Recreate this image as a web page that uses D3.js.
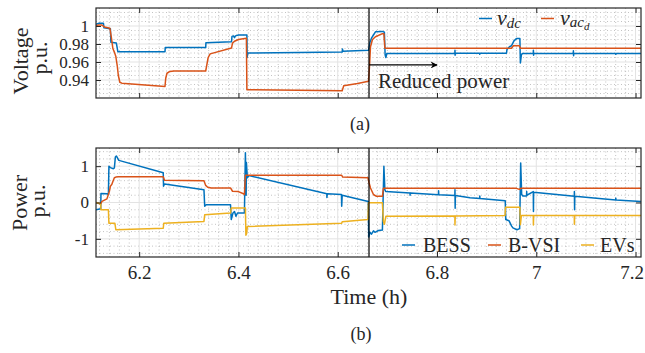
<!DOCTYPE html>
<html><head><meta charset="utf-8">
<script src="https://cdn.jsdelivr.net/npm/d3@7"></script>
<style>
body{margin:0;background:#fff}
svg{display:block}
text{font-family:"Liberation Serif","Times New Roman",serif;fill:#262626}
</style>
</head><body>
<svg id="c" width="645" height="353"></svg>
<script>
// ---------------- data ----------------
const timeDomain = [6.113, 7.211];
const timeTicks = [6.2, 6.4, 6.6, 6.8, 7, 7.2];
const voltDomain = [0.92, 1.02];
const voltTicks = [0.94, 0.96, 0.98, 1];
const powerDomain = [-1.5, 1.5];
const powerTicks = [-1, 0, 1];
const eventTime = 6.663;           // "Reduced power" instant
const arrowEnd = 6.8;
const arrowLevel = 0.9567;

// [time (h), value p.u.]
const vdc = [
 [6.113,1.002],[6.119,1.003],[6.128,1.003],[6.129,0.998],[6.142,0.997],[6.143,0.982],
 [6.154,0.981],[6.157,0.9715],[6.252,0.9715],[6.2525,0.976],[6.334,0.976],[6.3345,0.9815],
 [6.386,0.9825],[6.387,0.9885],[6.390,0.989],[6.392,0.987],[6.394,0.989],[6.400,0.990],
 [6.417,0.990],[6.4175,0.965],[6.419,0.970],[6.609,0.971],[6.6095,0.9745],[6.6105,0.972],
 [6.662,0.973],[6.665,0.982],[6.668,0.9865],[6.672,0.990],[6.676,0.9935],[6.690,0.994],
 [6.694,0.993],[6.6955,0.968],[6.697,0.965],[6.699,0.9695],[6.836,0.9697],[6.8362,0.973],
 [6.8365,0.9675],[6.837,0.9697],[6.886,0.9697],[6.8862,0.9685],[6.887,0.9697],[6.940,0.9697],
 [6.941,0.974],[6.946,0.977],[6.950,0.978],[6.955,0.9835],[6.960,0.986],[6.967,0.986],
 [6.968,0.959],[6.970,0.968],[6.972,0.9695],[6.994,0.9695],[6.9942,0.973],[6.9946,0.9675],
 [6.995,0.9695],[7.0746,0.9695],[7.0748,0.9725],[7.0752,0.967],[7.0756,0.9695],[7.16,0.9695],
 [7.1602,0.9685],[7.161,0.9695],[7.211,0.9695]
];
const vacd = [
 [6.113,1.0003],[6.117,1.001],[6.125,1.001],[6.130,0.999],[6.141,0.9975],[6.144,0.987],
 [6.147,0.975],[6.150,0.971],[6.153,0.966],[6.156,0.955],[6.158,0.945],[6.161,0.9375],
 [6.165,0.9365],[6.252,0.9328],[6.2535,0.942],[6.256,0.9475],[6.262,0.9495],[6.270,0.950],
 [6.334,0.950],[6.336,0.956],[6.339,0.965],[6.343,0.969],[6.386,0.9755],[6.388,0.981],
 [6.392,0.983],[6.400,0.985],[6.416,0.9865],[6.417,0.9292],[6.609,0.928],[6.612,0.9335],
 [6.640,0.936],[6.662,0.9385],[6.664,0.955],[6.666,0.977],[6.670,0.985],[6.676,0.988],
 [6.690,0.9915],[6.693,0.9915],[6.695,0.9752],[6.950,0.9752],[6.954,0.978],[6.966,0.978],
 [6.968,0.9752],[7.211,0.9752]
];
const bess = [
 [6.113,-0.2],[6.1225,-0.17],[6.123,0.25],[6.135,0.24],[6.138,0.22],[6.139,1.0],[6.142,0.96],
 [6.148,0.93],[6.150,0.95],[6.152,1.25],[6.154,1.28],[6.159,1.16],[6.2485,0.82],[6.249,0.45],
 [6.251,0.51],[6.3305,0.35],[6.332,-0.1],[6.335,-0.06],[6.384,-0.06],[6.3855,-0.47],
 [6.389,-0.29],[6.392,-0.25],[6.395,-0.38],[6.398,-0.29],[6.412,-0.29],[6.414,1.37],
 [6.4155,0.2],[6.416,1.1],[6.418,0.68],[6.421,0.74],[6.578,0.24],[6.5782,0.14],[6.579,0.24],
 [6.6075,0.22],[6.608,-0.1],[6.609,0.2],[6.6615,0.03],[6.6625,-0.95],[6.665,-0.82],
 [6.668,-0.87],[6.672,-0.78],[6.675,-0.82],[6.682,-0.77],[6.690,-0.76],[6.693,1.0],
 [6.695,0.35],[6.697,0.30],[6.7456,0.26],[6.7458,0.2],[6.746,0.26],[6.803,0.21],[6.8032,0.32],
 [6.8036,0.21],[6.836,0.19],[6.8362,0.35],[6.8366,-0.16],[6.837,0.19],[6.8665,0.13],
 [6.886,0.11],[6.8862,0.18],[6.8866,0.11],[6.9375,0.05],[6.9385,-0.47],[6.945,-0.5],
 [6.9504,-0.65],[6.953,-0.7],[6.961,-0.75],[6.9665,-0.72],[6.9686,1.09],[6.9706,0.22],
 [6.973,0.18],[6.9805,0.18],[6.9807,0.3],[6.981,0.2],[6.994,0.3],[6.9943,-0.25],
 [6.9947,0.28],[7.0766,0.17],[7.0768,0.3],[7.0772,-0.2],[7.0776,0.17],[7.16,0.07],
 [7.1602,0.12],[7.1606,0.07],[7.211,0.03]
];
const bvsi = [
 [6.113,0.0],[6.1225,-0.04],[6.125,0.03],[6.135,0.10],[6.140,0.31],[6.142,0.45],[6.145,0.5],
 [6.147,0.58],[6.150,0.68],[6.153,0.70],[6.158,0.71],[6.2485,0.71],[6.251,0.61],[6.3305,0.60],
 [6.334,0.47],[6.338,0.42],[6.345,0.40],[6.384,0.40],[6.388,0.31],[6.400,0.30],[6.410,0.24],
 [6.412,0.22],[6.414,0.75],[6.608,0.75],[6.610,0.70],[6.661,0.68],[6.663,0.55],[6.666,0.40],
 [6.672,0.22],[6.678,0.17],[6.690,0.17],[6.692,0.39],[6.960,0.39],[6.966,0.36],[6.969,0.39],
 [7.211,0.39]
];
const evs = [
 [6.113,0.0],[6.1225,-0.04],[6.123,-0.2],[6.138,-0.2],[6.139,-0.57],[6.151,-0.57],
 [6.153,-0.75],[6.2485,-0.71],[6.2495,-0.57],[6.3305,-0.52],[6.332,-0.34],[6.384,-0.29],
 [6.3855,-0.15],[6.414,-0.15],[6.415,-0.9],[6.4165,-0.85],[6.418,-0.66],[6.608,-0.57],
 [6.609,-0.53],[6.661,-0.47],[6.662,-0.01],[6.690,-0.01],[6.692,-0.52],[6.694,-0.60],
 [6.697,-0.38],[6.836,-0.37],[6.8362,-0.62],[6.8368,-0.37],[6.937,-0.36],[6.938,-0.13],
 [6.967,-0.13],[6.968,-0.61],[6.970,-0.36],[6.994,-0.36],[6.9942,-0.62],[6.9948,-0.36],
 [7.0766,-0.36],[7.0768,-0.60],[7.0774,-0.36],[7.211,-0.36]
];

// ---------------- drawing ----------------
const FONT = '"Liberation Serif","Times New Roman",serif';
const blue = "#0072BD", orange = "#D95319", yellow = "#EDB120", axisCol = "#262626";
const svg = d3.select("#c");
const L = 96, R = 641;
const x = d3.scaleLinear().domain(timeDomain).range([L, R]);

function steps(a, b, s) { const n = Math.round((b - a) / s); return d3.range(n + 1).map(i => +(a + i * s).toFixed(6)); }
const xMinor = steps(6.12, 7.2, 0.02).filter(v => !timeTicks.some(t => Math.abs(t - v) < 1e-6));

const panels = [
  { top: 8, bottom: 98, domain: voltDomain, ticks: voltTicks, minor: steps(0.925, 1.015, 0.005),
    fmt: d => d === 1 ? "1" : d.toFixed(2), series: [[vdc, blue], [vacd, orange]], xlabels: false },
  { top: 148, bottom: 257, domain: powerDomain, ticks: powerTicks, minor: steps(-1.4, 1.4, 0.2),
    fmt: d => String(d), series: [[bess, blue], [bvsi, orange], [evs, yellow]], xlabels: true }
];

panels.forEach((p, i) => {
  const y = d3.scaleLinear().domain(p.domain).range([p.bottom, p.top]);
  p.y = y;
  const g = svg.append("g");
  const clipId = "clip" + i;
  svg.append("clipPath").attr("id", clipId).append("rect")
    .attr("x", L).attr("y", p.top).attr("width", R - L).attr("height", p.bottom - p.top);
  const grid = g.append("g");
  grid.selectAll(".mx").data(xMinor).join("line")
    .attr("x1", d => x(d)).attr("x2", d => x(d)).attr("y1", p.top).attr("y2", p.bottom)
    .attr("stroke", "#b4b4b4").attr("stroke-width", 0.8).attr("stroke-dasharray", "1,2.5");
  const yMinor = p.minor.filter(v => !p.ticks.some(t => Math.abs(t - v) < 1e-6));
  grid.selectAll(".my").data(yMinor).join("line")
    .attr("y1", d => y(d)).attr("y2", d => y(d)).attr("x1", L).attr("x2", R)
    .attr("stroke", "#b4b4b4").attr("stroke-width", 0.8).attr("stroke-dasharray", "1,2.5");
  grid.selectAll(".Mx").data(timeTicks).join("line")
    .attr("x1", d => x(d)).attr("x2", d => x(d)).attr("y1", p.top).attr("y2", p.bottom)
    .attr("stroke", "#e3e3e3").attr("stroke-width", 1);
  grid.selectAll(".My").data(p.ticks).join("line")
    .attr("y1", d => y(d)).attr("y2", d => y(d)).attr("x1", L).attr("x2", R)
    .attr("stroke", "#e3e3e3").attr("stroke-width", 1);

  const line = d3.line().x(d => x(d[0])).y(d => y(d[1]));
  const sg = g.append("g").attr("clip-path", `url(#${clipId})`);
  p.series.forEach(([data, col]) => {
    sg.append("path").datum(data).attr("d", line).attr("fill", "none")
      .attr("stroke", col).attr("stroke-width", 1.5).attr("stroke-linejoin", "round");
  });
  g.append("line").attr("x1", x(eventTime)).attr("x2", x(eventTime))
    .attr("y1", p.top).attr("y2", p.bottom).attr("stroke", "#000").attr("stroke-width", 1.2);

  const style = sel => { sel.attr("font-family", FONT); sel.select(".domain").remove(); sel.selectAll("line").attr("stroke", axisCol); };
  g.append("g").attr("transform", `translate(${L},0)`)
    .call(d3.axisLeft(y).tickValues(p.ticks).tickSize(-5).tickPadding(7).tickFormat(p.fmt))
    .call(style).call(s => s.selectAll("text").attr("font-size", 17).style("fill", axisCol));
  g.append("g").attr("transform", `translate(${R},0)`)
    .call(d3.axisRight(y).tickValues(p.ticks).tickSize(-5).tickFormat("")).call(style);
  g.append("g").attr("transform", `translate(0,${p.top})`)
    .call(d3.axisTop(x).tickValues(timeTicks).tickSize(-5).tickFormat("")).call(style);
  g.append("g").attr("transform", `translate(0,${p.bottom})`)
    .call(d3.axisBottom(x).tickValues(timeTicks).tickSize(-5).tickPadding(9)
      .tickFormat(p.xlabels ? (d => String(d)) : ""))
    .call(style).call(s => s.selectAll("text").attr("font-size", 19).style("fill", axisCol)
      .filter(d => d === timeTicks[timeTicks.length - 1]).attr("dx", -4));
  g.append("rect").attr("x", L).attr("y", p.top).attr("width", R - L).attr("height", p.bottom - p.top)
    .attr("fill", "none").attr("stroke", axisCol).attr("stroke-width", 1.2);
});

// annotation: reduced power arrow
const pa = panels[0];
svg.append("defs").append("marker").attr("id", "ah").attr("viewBox", "0 0 10 10")
  .attr("refX", 9).attr("refY", 5).attr("markerWidth", 9).attr("markerHeight", 7)
  .attr("markerUnits", "userSpaceOnUse").attr("orient", "auto")
  .append("path").attr("d", "M0,0 L10,5 L0,10 L3,5 Z").attr("fill", "#000");
svg.append("line").attr("x1", x(eventTime)).attr("x2", x(arrowEnd))
  .attr("y1", pa.y(arrowLevel)).attr("y2", pa.y(arrowLevel))
  .attr("stroke", "#000").attr("stroke-width", 1.3).attr("marker-end", "url(#ah)");
svg.append("text").attr("x", 378).attr("y", 88).attr("font-size", 21).text("Reduced power");

function ylab(txt, bx, cy) {
  svg.append("text").attr("transform", `translate(${bx},${cy}) rotate(-90)`)
    .attr("text-anchor", "middle").attr("font-size", 22).text(txt);
}
ylab("Voltage", 28, 61); ylab("p.u.", 47, 58);
ylab("Power", 27, 203); ylab("p.u.", 45, 201);

svg.append("text").attr("x", 369).attr("y", 304).attr("text-anchor", "middle").attr("font-size", 22).text("Time (h)");
svg.append("text").attr("x", 360).attr("y", 130).attr("text-anchor", "middle").attr("font-size", 18).text("(a)");
svg.append("text").attr("x", 361).attr("y", 340).attr("text-anchor", "middle").attr("font-size", 18).text("(b)");

const lt = svg.append("g");
lt.append("line").attr("x1", 479).attr("x2", 492).attr("y1", 18.5).attr("y2", 18.5).attr("stroke", blue).attr("stroke-width", 1.5);
const t1 = lt.append("text").attr("x", 497).attr("y", 25).attr("font-size", 22).attr("font-style", "italic");
t1.append("tspan").text("v");
t1.append("tspan").attr("dy", 3).attr("font-size", 15).text("dc");
lt.append("line").attr("x1", 541).attr("x2", 554).attr("y1", 18.5).attr("y2", 18.5).attr("stroke", orange).attr("stroke-width", 1.5);
const t2 = lt.append("text").attr("x", 560).attr("y", 25).attr("font-size", 22).attr("font-style", "italic");
t2.append("tspan").text("v");
t2.append("tspan").attr("dy", 2).attr("font-size", 15).text("ac");
t2.append("tspan").attr("dy", 2.5).attr("font-size", 11).text("d");

const lb = [["BESS", blue, 402, 423], ["B-VSI", orange, 488, 508], ["EVs", yellow, 581, 600]];
lb.forEach(([name, col, lx, tx]) => {
  svg.append("line").attr("x1", lx).attr("x2", lx + 13).attr("y1", 245).attr("y2", 245).attr("stroke", col).attr("stroke-width", 1.5);
  svg.append("text").attr("x", tx).attr("y", 251.5).attr("font-size", 20).text(name);
});
</script>
</body></html>
